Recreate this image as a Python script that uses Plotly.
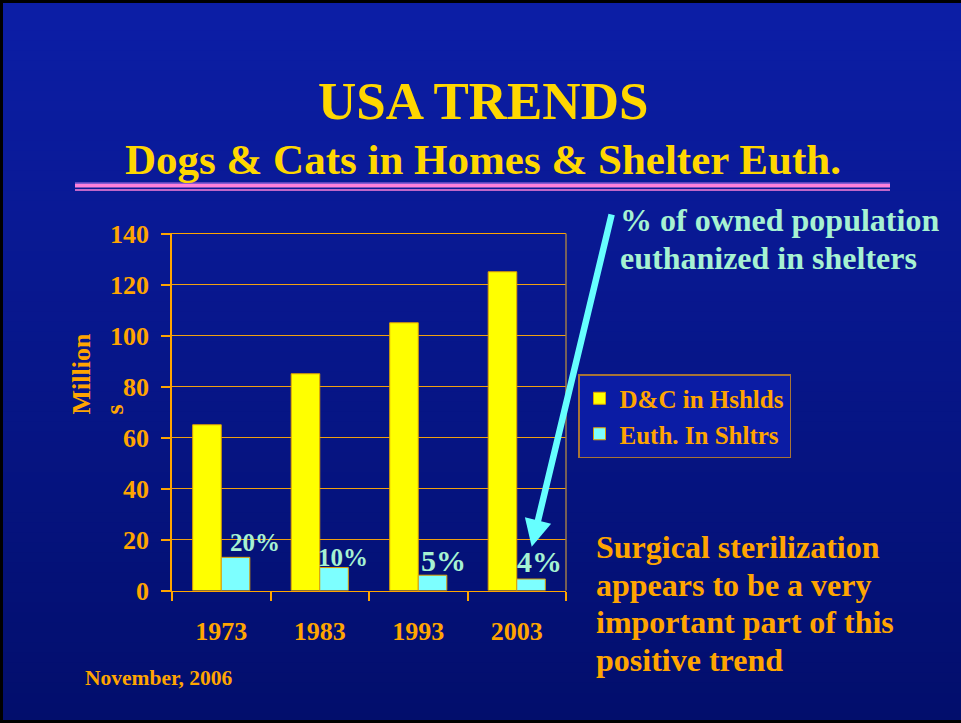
import plotly.graph_objects as go

W, H = 961, 723

# ---------------- data ----------------
years = ["1973", "1983", "1993", "2003"]
households = [65, 85, 105, 125]          # D&C in Hshlds (millions)
euthanized = [13, 9, 6, 4.5]             # Euth. In Shltrs (millions)
pct_labels = ["20%", "10%", "5%", "4%"]
y_ticks = [0, 20, 40, 60, 80, 100, 120, 140]
series_names = ["D&C in Hshlds", "Euth. In Shltrs"]

title_text = "USA TRENDS"
subtitle_text = "Dogs & Cats in Homes & Shelter Euth."
arrow_note_lines = ["% of owned population", "euthanized in shelters"]
side_note_lines = ["Surgical sterilization", "appears to be a very",
                   "important part of this", "positive trend"]
date_note = "November, 2006"
y_title = "Million<br>s"

# ---------------- style ----------------
FONT = "Liberation Serif, Times New Roman, serif"
ORANGE = "#FFA500"
GOLD = "#FFD700"
AQUA_TXT = "#A6F2D2"
CYAN = "#66FFFF"
YELLOW = "#FFFF00"
CYAN_BAR = "#7DFFFF"
GRID = "#F0A010"

PLOT_L, PLOT_R = 172, 566
PLOT_T, PLOT_B = 233.5, 590.5


def fx(px):
    return px / W


def fy(py):
    return 1 - py / H


fig = go.Figure()

fig.add_trace(go.Bar(
    x=years, y=households, name=series_names[0],
    marker=dict(color=YELLOW, line=dict(color="#E0A000", width=1)),
))
fig.add_trace(go.Bar(
    x=years, y=euthanized, name=series_names[1],
    marker=dict(color=CYAN_BAR, line=dict(color="#E0A000", width=1)),
))

shapes = []
# background gradient
top = (12, 30, 166)
bot = (2, 14, 108)
N = 72
for i in range(N):
    t = i / (N - 1)
    c = tuple(round(top[k] + (bot[k] - top[k]) * t) for k in range(3))
    shapes.append(dict(type="rect", xref="paper", yref="paper", layer="below",
                       x0=0, x1=1, y0=1 - i / N, y1=1 - (i + 1) / N - 0.002,
                       line=dict(width=0), fillcolor="rgb(%d,%d,%d)" % c))
# frame (left, top, bottom)
for (x0, y0, x1, y1) in [(0, 0, 0, 1), (0, 1, 1, 1), (0, 0, 1, 0)]:
    shapes.append(dict(type="line", xref="paper", yref="paper", x0=x0, y0=y0, x1=x1, y1=y1,
                       line=dict(color="#000000", width=6)))
# decorative double line under the subtitle
shapes.append(dict(type="line", xref="paper", yref="paper", x0=fx(75), x1=fx(890),
                   y0=fy(183.2), y1=fy(183.2), line=dict(color="#B070E6", width=1.2)))
shapes.append(dict(type="line", xref="paper", yref="paper", x0=fx(75), x1=fx(890),
                   y0=fy(185.8), y1=fy(185.8), line=dict(color="#FF80DA", width=3.6)))
shapes.append(dict(type="line", xref="paper", yref="paper", x0=fx(75), x1=fx(890),
                   y0=fy(190), y1=fy(190), line=dict(color="#FF80DA", width=1.6)))
# right border of plot area
shapes.append(dict(type="line", xref="x domain", yref="y domain", x0=1, x1=1,
                   y0=0, y1=1, line=dict(color="#9C7A4A", width=1.5)))

annotations = []
annotations.append(dict(text=title_text, xref="paper", yref="paper", x=fx(483), y=fy(101),
                        xanchor="center", yanchor="middle", showarrow=False,
                        font=dict(family=FONT, size=53, color=GOLD, weight="bold")))
annotations.append(dict(text=subtitle_text, xref="paper", yref="paper", x=fx(483), y=fy(159.5),
                        xanchor="center", yanchor="middle", showarrow=False,
                        font=dict(family=FONT, size=43, color=GOLD, weight="bold")))
for k, line in enumerate(arrow_note_lines):
    annotations.append(dict(text=line, xref="paper", yref="paper", x=fx(618), y=fy(219.5 + 38.4 * k),
                            xanchor="left", yanchor="middle", align="left", showarrow=False,
                            font=dict(family=FONT, size=32, color=AQUA_TXT, weight="bold")))
for k, line in enumerate(side_note_lines):
    annotations.append(dict(text=line, xref="paper", yref="paper", x=fx(594), y=fy(546.7 + 37.8 * k),
                            xanchor="left", yanchor="middle", align="left", showarrow=False,
                            font=dict(family=FONT, size=32, color=ORANGE, weight="bold")))
annotations.append(dict(text=date_note, xref="paper", yref="paper", x=fx(158.5), y=fy(678),
                        xanchor="center", yanchor="middle", showarrow=False,
                        font=dict(family=FONT, size=21.5, color=ORANGE, weight="bold")))
annotations.append(dict(text=y_title, xref="paper", yref="paper", x=fx(97.5), y=fy(374),
                        xanchor="center", yanchor="middle", align="left", textangle=-90,
                        showarrow=False,
                        font=dict(family=FONT, size=26, color=ORANGE, weight="bold")))
# percent labels above the shelter bars
pct_sizes = [25, 25, 30, 30]
pct_xshift = [33.4, 22.9, 25.5, 22.9]
pct_yshift = [-1, -5, -4, -1]
for i in range(len(years)):
    annotations.append(dict(text=pct_labels[i], x=i, y=euthanized[i], xref="x", yref="y",
                            xshift=pct_xshift[i], yshift=pct_yshift[i],
                            xanchor="center", yanchor="bottom", showarrow=False,
                            font=dict(family=FONT, size=pct_sizes[i], color=AQUA_TXT, weight="bold")))
# arrow (tail offset in pixels from the head)
annotations.append(dict(text="", xref="paper", yref="paper", x=fx(531.7), y=fy(546.7),
                        axref="pixel", ayref="pixel", ax=612 - 531.7, ay=213 - 546.7,
                        showarrow=True, arrowhead=2, arrowsize=0.83, arrowwidth=6.5,
                        arrowcolor=CYAN, standoff=0))

fig.update_layout(
    width=W, height=H, autosize=False,
    margin=dict(l=0, r=0, t=0, b=0, pad=0, autoexpand=False),
    paper_bgcolor="rgb(6,22,140)",
    plot_bgcolor="rgba(0,0,0,0)",
    barmode="group", bargap=0.42, bargroupgap=0,
    showlegend=True,
    legend=dict(x=fx(578), y=fy(374), xanchor="left", yanchor="top",
                bgcolor="#0B1CA4", bordercolor="#A87436", borderwidth=1.5,
                font=dict(family=FONT, size=25, color=ORANGE, weight="bold"),
                tracegroupgap=0, traceorder="normal"),
    xaxis=dict(domain=[fx(PLOT_L), fx(PLOT_R)], type="category", range=[-0.5, 3.5],
               showline=True, mirror=True, linecolor=ORANGE, linewidth=1,
               ticks="outside", tickson="boundaries", ticklen=9, tickcolor=ORANGE, tickwidth=1.5,
               tickfont=dict(family=FONT, size=26, color=ORANGE, weight="bold"),
               ticklabelstandoff=17, showgrid=False, zeroline=False),
    yaxis=dict(domain=[fy(PLOT_B), fy(PLOT_T)], range=[0, 140], tickvals=y_ticks,
               showline=True, linecolor=ORANGE, linewidth=1.5,
               ticks="outside", ticklen=9, tickcolor=ORANGE, tickwidth=1.5,
               tickfont=dict(family=FONT, size=26, color=ORANGE, weight="bold"),
               ticklabelstandoff=7,
               showgrid=True, gridcolor=GRID, gridwidth=1, zeroline=False),
    shapes=shapes,
    annotations=annotations,
)

fig.write_html(
    "out.html",
    config={"displayModeBar": False},
    post_script="document.body.style.margin='0';document.body.style.overflow='hidden';",
)
